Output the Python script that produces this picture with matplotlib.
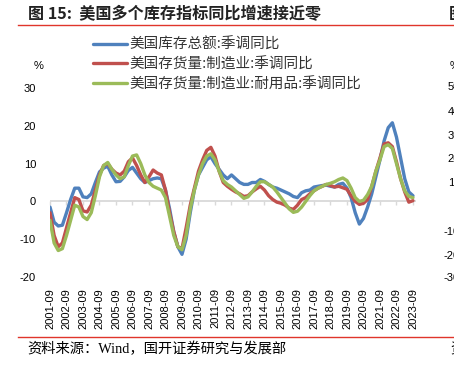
import pandas as pd
import matplotlib
matplotlib.use('Agg')
import matplotlib.pyplot as plt
from matplotlib.lines import Line2D

plt.rcParams['font.family'] = ['Liberation Sans', 'Noto Sans CJK SC']

# quarterly readings, 2001-09 .. 2023-09
dates = pd.date_range('2001-09-01', '2023-09-01', freq='3MS')

total_inv = [-1.5, -5.5,
             -6.5, -6.3, -3.0, 0.5,
             3.5, 3.5, 1.2, 1.0,
             2.0, 5.0, 7.8, 8.8,
             9.3, 7.0, 5.2, 5.3,
             6.5, 8.2, 9.0, 7.5,
             6.0, 5.0, 5.5, 6.0,
             6.2, 6.0, 3.0, -2.0,
             -8.0, -12.0, -14.0, -10.0,
             -3.0, 3.0, 7.0, 9.0,
             11.0, 11.8, 10.0, 8.5,
             7.0, 6.0, 7.0, 6.0,
             5.0, 4.5, 4.5, 5.0,
             5.0, 5.8, 5.3, 4.5,
             3.8, 3.5, 3.0, 2.5,
             2.0, 1.3, 1.0, 2.3,
             2.8, 3.0, 3.8, 4.0,
             4.2, 4.3, 4.0, 3.8,
             4.5, 4.8, 3.5, 1.0,
             -3.0, -6.0, -4.5, -1.5,
             2.0, 6.5, 11.0, 16.0,
             19.5, 20.8, 17.0, 11.5,
             6.0, 2.5, 1.5]

mfg_inv = [-3.0, -9.0,
           -12.0, -11.0, -7.0, -3.0,
           1.0, 0.5, -2.5, -2.8,
           -1.0, 3.0, 7.0, 9.5,
           10.0, 8.5, 7.5, 7.0,
           8.0, 10.5, 11.5, 9.5,
           7.0, 5.0, 6.5, 8.3,
           7.5, 7.0, 3.0, -3.0,
           -8.0, -12.0, -12.5, -7.0,
           -1.0, 3.5, 8.0, 11.0,
           13.5, 14.3, 12.0, 8.0,
           5.0, 4.0, 3.2, 2.5,
           2.0, 1.3, 1.5, 2.5,
           3.3, 4.0, 3.0, 1.5,
           0.5, -0.2, -0.5, -1.0,
           -1.8, -2.1, -1.0, 0.5,
           1.0, 2.0, 2.8, 3.5,
           4.0, 4.5, 4.2, 3.8,
           4.0, 3.6, 3.2, 1.5,
           0.0, -0.8, -0.5, 0.5,
           4.0, 8.0, 11.5, 15.2,
           15.5, 14.5, 10.5, 6.0,
           2.5, -0.2, 0.2]

durable_inv = [-5.0, -11.0,
               -13.0, -12.5, -9.0, -5.0,
               -1.0, -1.5, -4.0, -4.8,
               -3.0, 1.5, 6.5, 9.5,
               10.3, 8.5, 7.0, 6.0,
               6.5, 9.5, 12.0, 12.3,
               10.0, 7.0, 5.0, 4.0,
               3.5, 3.0, 1.0, -4.0,
               -9.0, -12.0, -12.8, -9.0,
               -2.0, 3.0, 7.0, 10.0,
               12.0, 12.6, 11.0, 8.0,
               5.5, 4.5, 3.8, 2.8,
               1.8, 0.8, 1.2, 2.5,
               4.0, 5.2, 5.2, 4.5,
               3.8, 2.5, 1.0, -0.5,
               -2.0, -2.9, -2.6, -1.5,
               0.0, 1.5, 2.8, 3.5,
               4.0, 4.5, 4.8, 5.2,
               5.8, 6.2, 5.5, 3.5,
               1.0, 0.0, 0.3, 1.8,
               4.0, 8.0, 11.0, 14.5,
               15.0, 14.0, 10.0, 6.0,
               2.8, 1.3, 1.0]

series_names = ['美国库存总额:季调同比',
                '美国存货量:制造业:季调同比',
                '美国存货量:制造业:耐用品:季调同比']
tick_years = list(range(2001, 2024))
tick_labels = [f'{y}-09' for y in tick_years]
y_ticks = [-20, -10, 0, 10, 20, 30]
neighbor_labels = ['50', '40', '30', '20', '10', '0', '-10', '-20', '-30']
neighbor_y = [87, 112, 136, 159, 183, 208, 232, 256, 278]

W, H = 454, 366
fig = plt.figure(figsize=(W / 100, H / 100), dpi=100)
ax = fig.add_axes([50 / W, 1 - 277 / H, 366 / W, 189 / H])

x = dates.year + (dates.month - 1) / 12
colors = ['#4F81BD', '#C0504D', '#9BBB59']
for vals, name, c in zip([total_inv, mfg_inv, durable_inv], series_names, colors):
    ax.plot(x, vals, color=c, lw=2.4, label=name, solid_capstyle='round')

ax.set_xlim(2001 + 8 / 12, 2023.85)
ax.set_ylim(-20, 30)
for s in ax.spines.values():
    s.set_visible(False)

# zero line with tick marks, labels sit at the bottom
ax.axhline(0, color='#D9D9D9', lw=1.3, zorder=0)
ticks = [y + 8 / 12 for y in tick_years]
ax.set_xticks(ticks)
ax.set_xticklabels(tick_labels, rotation=90, fontsize=8)
ax.tick_params(axis='x', length=0, pad=8)
zero_ax = ax.secondary_xaxis(0.4)
zero_ax.set_xticks(ticks)
zero_ax.set_xticklabels([])
zero_ax.spines['bottom'].set_visible(False)
zero_ax.tick_params(axis='x', length=3, width=1, color='#D9D9D9', direction='out')

ax.set_yticks(y_ticks)
ax.set_yticklabels([str(v) for v in y_ticks], fontsize=8)
ax.tick_params(axis='y', length=0, pad=10)

fig.text(39 / W, 1 - 66 / H, '%', fontsize=8, ha='center', va='center')

leg = fig.legend(loc='upper left', bbox_to_anchor=(93 / W, 1 - 37.5 / H), frameon=False,
                 prop={'family': 'Noto Sans CJK SC', 'size': 10.5},
                 handlelength=2.3, handletextpad=0.2, labelspacing=0.4,
                 borderpad=0, borderaxespad=0)
for t in leg.get_texts():
    t.set_color('#333333')

# title, rules and source
fig.text(28 / W, 1 - 14 / H, '图 15:  美国多个库存指标同比增速接近零', fontsize=11.6,
         weight='bold', family='Noto Sans CJK SC', va='center', color='#222222')
fig.add_artist(Line2D([18 / W, 1], [1 - 25 / H] * 2, color='#E0352B', lw=1))
fig.add_artist(Line2D([18 / W, 1], [1 - 337 / H] * 2, color='#E0352B', lw=1))
fig.text(27 / W, 1 - 349 / H, '资料来源：Wind，国开证券研究与发展部', fontsize=10.3,
         family=['Liberation Serif', 'Noto Sans CJK SC'], va='center')

# edge of the neighbouring chart
fig.text(449 / W, 1 - 14 / H, '图', fontsize=11.6, weight='bold',
         family='Noto Sans CJK SC', va='center', color='#222222')
fig.text(450 / W, 1 - 349 / H, '资', fontsize=10.3, family='Noto Sans CJK SC', va='center')
fig.text(450 / W, 1 - 66 / H, '%', fontsize=8, va='center')
for lab, yy in zip(neighbor_labels, neighbor_y):
    fig.text(460 / W, 1 - yy / H, lab, fontsize=8, ha='right', va='center')

fig.savefig('out.png', dpi=100)
